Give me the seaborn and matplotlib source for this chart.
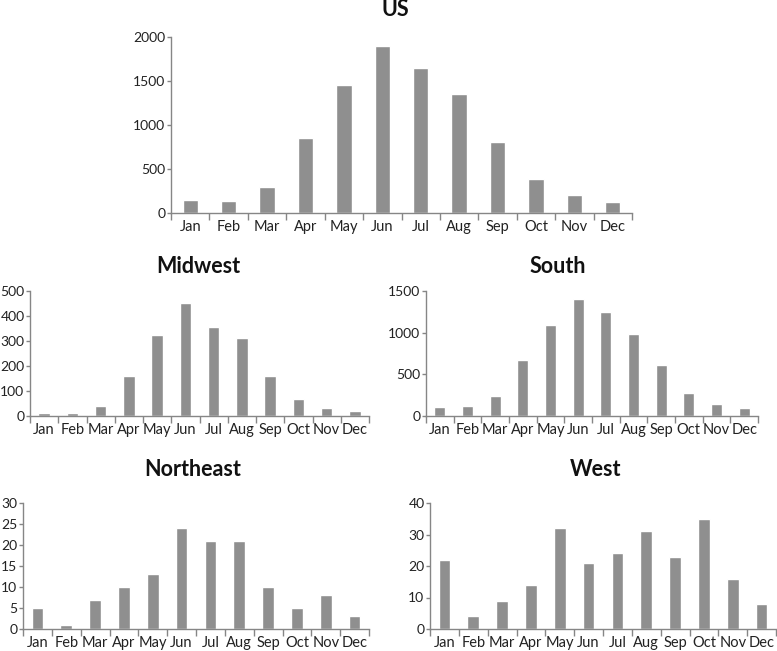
import matplotlib
matplotlib.use("Agg")
import matplotlib.pyplot as plt
import seaborn as sns
import pandas as pd
import numpy as np

months = ["Jan", "Feb", "Mar", "Apr", "May", "Jun", "Jul", "Aug", "Sep", "Oct", "Nov", "Dec"]
us = [150, 135, 295, 855, 1460, 1900, 1650, 1350, 810, 390, 205, 130]
midwest = [12, 12, 40, 162, 325, 452, 356, 314, 162, 70, 32, 20]
south = [110, 120, 240, 670, 1090, 1400, 1250, 985, 615, 280, 150, 100]
northeast = [5, 1, 7, 10, 13, 24, 21, 21, 10, 5, 8, 3]
west = [22, 4, 9, 14, 32, 21, 24, 31, 23, 35, 16, 8]

sns.set_theme(style="white")
plt.rcParams['font.family'] = ['Lato', 'DejaVu Sans']

W, H = 777, 651
fig = plt.figure(figsize=(W / 100, H / 100), dpi=100)

BAR = "#8f8f8f"
AXC = "#868686"

panels = [
    ("US", us, (171, 632, 37, 213), 2000, 500, (395, 10)),
    ("Midwest", midwest, (30, 369, 291, 416), 500, 100, (198, 266)),
    ("South", south, (426, 758, 291, 416), 1500, 500, (558, 266)),
    ("Northeast", northeast, (23, 369, 503, 629), 30, 5, (193, 470)),
    ("West", west, (430, 776, 503, 629), 40, 10, (596, 470)),
]

for title, vals, (l, r, t, b), ymax, step, (tx, ty) in panels:
    ax = fig.add_axes([l / W, 1 - b / H, (r - l) / W, (b - t) / H])
    df = pd.DataFrame({"month": months, "value": vals})
    sns.barplot(data=df, x="month", y="value", color=BAR, saturation=1,
                width=0.4, ax=ax, order=months)
    ax.set_xlim(-0.5, 11.5)
    ax.set_ylim(0, ymax)
    ax.set_yticks(np.arange(0, ymax + step / 2, step))
    ax.set_xlabel("")
    ax.set_ylabel("")
    for s in ("top", "right"):
        ax.spines[s].set_visible(False)
    for s in ("left", "bottom"):
        ax.spines[s].set_color(AXC)
        ax.spines[s].set_linewidth(1)
    ax.set_xticks(np.arange(-0.5, 12, 1), minor=True)
    ax.tick_params(axis="x", which="major", length=0, labelsize=10.5, pad=5, colors="#222222")
    ax.tick_params(axis="x", which="minor", length=5, width=1, color=AXC, direction="out", bottom=True)
    ax.tick_params(axis="y", which="major", length=3, width=1, color=AXC, direction="out", left=True,
                   labelsize=10, pad=1, labelcolor="#222222")
    fig.text(tx / W, 1 - ty / H, title, ha="center", va="center", fontsize=15.5,
             fontweight="bold", color="#111111")

fig.savefig("out.png", dpi=100)
